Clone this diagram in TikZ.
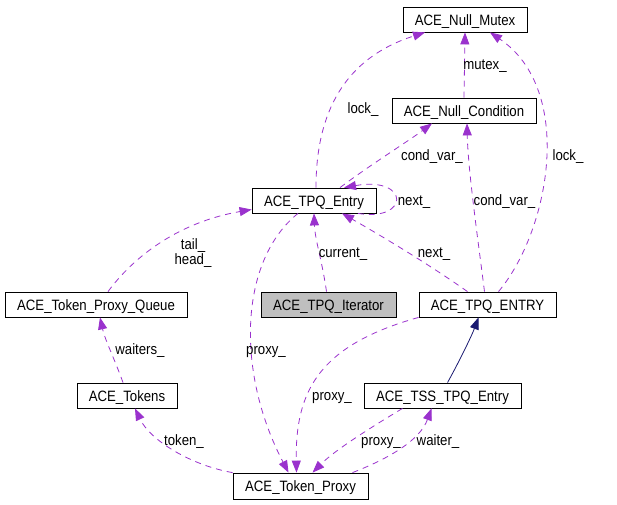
\documentclass[tikz,border=0pt]{standalone}
\usepackage{fontspec}
\setmainfont{Liberation Sans}[FakeStretch=0.88]
\usepackage{tikz}
\usetikzlibrary{arrows.meta}
\definecolor{edgepurple}{RGB}{154,50,205}
\definecolor{inhblue}{RGB}{25,25,112}
\begin{document}
\begin{tikzpicture}
 	[x=1pt,y=-1pt,font=\fontsize{15}{15}\selectfont,
 	cls/.style={rectangle,draw=black,line width=0.8pt,fill=white,
 		inner sep=0pt,minimum height=25pt,text height=11pt,text depth=0pt},
 	clsgray/.style={cls,fill=black!25},
 	member/.style={draw=edgepurple,line width=0.8pt,dash pattern=on 6pt off 5pt,
 		-{Triangle[length=12pt,width=9pt]}},
 	inherit/.style={draw=inhblue,line width=0.8pt,
 		-{Triangle[length=12pt,width=9pt]}},
 	lbl/.style={inner sep=0pt,text height=11pt,text depth=0pt},
 	lbl2/.style={inner sep=0pt,align=center}]
 	\useasboundingbox (0,0) rectangle (617,504);
 	%  clases
 	\node[cls,minimum width=124pt] (mutex) at (465,19.5) {ACE\_Null\_Mutex};
 	\node[cls,minimum width=144pt] (cond) at (464,110.5) {ACE\_Null\_Condition};
 	\node[cls,minimum width=124pt] (entry) at (314,200.5) {ACE\_TPQ\_Entry};
 	\node[cls,minimum width=182pt] (queue) at (96,304.5) {ACE\_Token\_Proxy\_Queue};
 	\node[clsgray,minimum width=135pt] (iter) at (328.5,304.5) {ACE\_TPQ\_Iterator};
 	\node[cls,minimum width=137pt] (ENTRY) at (487.5,304.5) {ACE\_TPQ\_ENTRY};
 	\node[cls,minimum width=100pt] (tokens) at (127,395.5) {ACE\_Tokens};
 	\node[cls,minimum width=157pt] (tss) at (442.5,395.5) {ACE\_TSS\_TPQ\_Entry};
 	\node[cls,minimum width=135pt,minimum height=26pt] (proxy) at (300.5,486) {ACE\_Token\_Proxy};
 	%  arriba: mutex y condition
 	\draw[member] ([xshift=2pt]entry.north) .. controls (316,112) and (345,58) .. ([xshift=-40pt]mutex.south);
 	\draw[member] (cond.north) -- (mutex.south);
 	\draw[member] ([xshift=26pt]entry.north) .. controls (370,165) and (410,140) .. ([xshift=-32pt]cond.south);
 	\draw[member] ([xshift=-3pt]ENTRY.north) .. controls (478,240) and (468,170) .. ([xshift=3pt]cond.south);
 	\draw[member] ([xshift=11pt]ENTRY.north) .. controls (550,230) and (575,90) .. ([xshift=25pt]mutex.south);
 	\node[lbl] (l1) at (363,108) {lock\_};
 	\node[lbl] (l2) at (485,64) {mutex\_};
 	\node[lbl] (l3) at (432,155) {cond\_var\_};
 	\node[lbl] (l4) at (504.5,200) {cond\_var\_};
 	\node[lbl] (l5) at (568,155) {lock\_};
 	%  next_ y current_
 	\draw[member] ([xshift=44pt]entry.south) .. controls (410,222) and (410,176) .. ([xshift=30pt]entry.north);
 	\draw[member] ([xshift=-20pt]ENTRY.north) .. controls (430,265) and (380,235) .. ([xshift=28pt]entry.south);
 	\draw[member] ([xshift=-2pt]iter.north) .. controls (322,260) and (315,240) .. (entry.south);
 	\node[lbl] (l6) at (414,200) {next\_};
 	\node[lbl] (l7) at (434,252) {next\_};
 	\node[lbl] (l8) at (343,252) {current\_};
 	%  lado izquierdo
 	\draw[member] ([xshift=12pt]queue.north) .. controls (135,255) and (180,222) .. ([yshift=-9pt]entry.west);
 	\draw[member] ([xshift=-4pt]tokens.north) .. controls (115,360) and (105,340) .. ([xshift=4pt]queue.south);
 	\draw[member] (proxy.north west) .. controls (190,465) and (150,440) .. ([xshift=8pt]tokens.south);
 	\node[lbl2] (l9) at (193,253) {tail\_\\head\_};
 	\node[lbl] (l10) at (140,349) {waiters\_};
 	\node[lbl] (l11) at (184,440) {token\_};
 	%  proxy_ hacia ACE_Token_Proxy
 	\draw[member] ([xshift=-16pt]entry.south) .. controls (240,260) and (235,370) .. ([xshift=-12pt]proxy.north);
 	\draw[member] (ENTRY.south west) .. controls (320,345) and (295,390) .. ([xshift=-4pt]proxy.north);
 	\draw[member] ([xshift=-40pt]tss.south) .. controls (370,428) and (335,450) .. ([xshift=12pt]proxy.north);
 	\draw[member] ([xshift=52pt]proxy.north) .. controls (390,458) and (420,440) .. ([xshift=-11pt]tss.south);
 	\node[lbl] (l12) at (266,349) {proxy\_};
 	\node[lbl] (l13) at (332,395) {proxy\_};
 	\node[lbl] (l14) at (381,440) {proxy\_};
 	\node[lbl] (l15) at (438,440) {waiter\_};
 	%  herencia
 	\draw[inherit] ([xshift=5pt]tss.north) .. controls (460,360) and (472,335) .. ([xshift=-9pt]ENTRY.south);
\end{tikzpicture}
\end{document}
